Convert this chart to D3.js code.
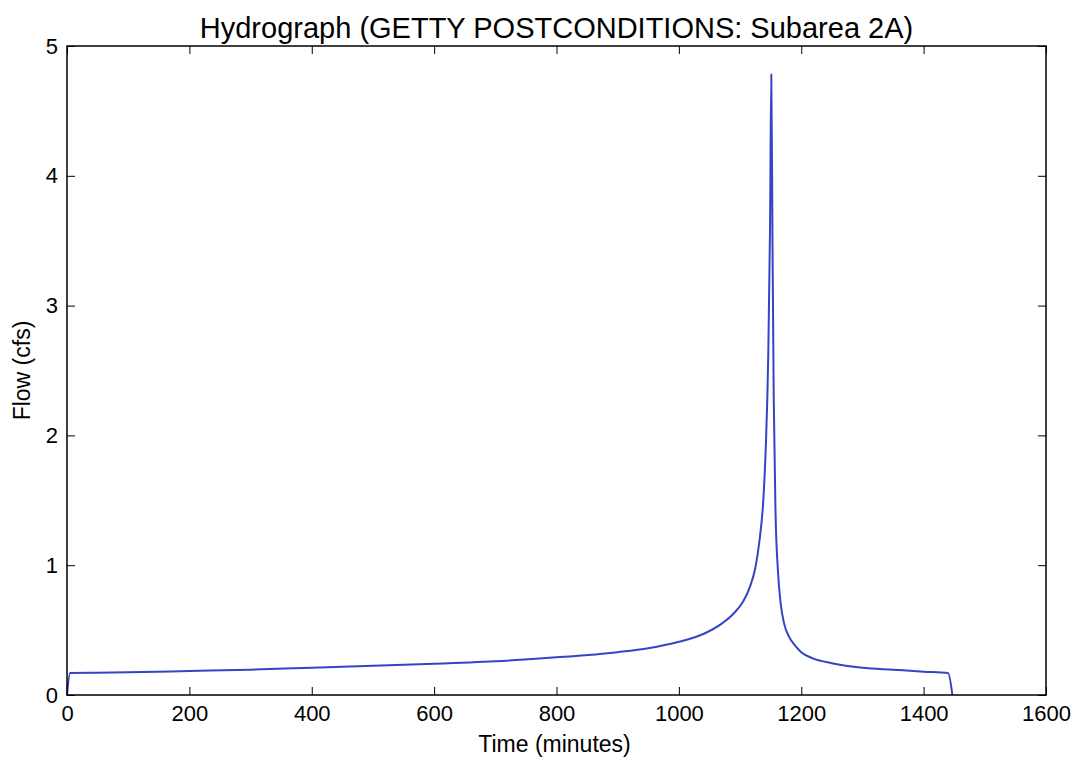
<!DOCTYPE html>
<html>
<head>
<meta charset="utf-8">
<script src="https://cdn.jsdelivr.net/npm/d3@7"></script>
<style>
  body { margin: 0; background: #fff; }
  svg { display: block; font-family: "Liberation Sans", Arial, sans-serif; }
</style>
</head>
<body>
<div id="chart"></div>
<script>
// Data
const times = [0, 5, 50, 100, 200, 300, 400, 500, 600, 700, 800, 900, 950, 1000, 1040, 1070, 1090,
  1105, 1115, 1125, 1132, 1138, 1142, 1146, 1149, 1151, 1153, 1155, 1158, 1162, 1166, 1172, 1180,
  1190, 1200, 1220, 1250, 1300, 1350, 1400, 1440, 1447]
const flows = [0, 0.17, 0.172, 0.175, 0.185, 0.195, 0.21, 0.225, 0.24, 0.26, 0.29, 0.33, 0.36, 0.41,
  0.47, 0.55, 0.63, 0.72, 0.82, 0.98, 1.2, 1.5, 1.9, 2.6, 3.6, 4.78, 3.5, 2.3, 1.4, 0.95, 0.72, 0.55,
  0.45, 0.38, 0.33, 0.28, 0.245, 0.21, 0.195, 0.18, 0.17, 0]
const xTicks = [0, 200, 400, 600, 800, 1000, 1200, 1400, 1600]
const yTicks = [0, 1, 2, 3, 4, 5]

const points = times.map((t, i) => ({ t, q: flows[i] }))

// SVG
const width = 1076, height = 758
const margin = { top: 46, right: 30, bottom: 63, left: 67 }
const chartWidth = width - margin.left - margin.right
const chartHeight = height - margin.top - margin.bottom

const svg = d3.select('#chart').append('svg')
  .attr('width', width)
  .attr('height', height)

const g = svg.append('g')
  .attr('transform', `translate(${margin.left}, ${margin.top})`)

// Scales
const x = d3.scaleLinear().domain([0, 1600]).range([0, chartWidth])
const y = d3.scaleLinear().domain([0, 5]).range([chartHeight, 0])

// Axes (ticks inside, on all four sides)
const tick = 8
const fmt = d3.format('d')
const styleAxis = sel => {
  sel.select('.domain').remove()
  sel.selectAll('line').attr('stroke', '#000').attr('stroke-width', 1)
  sel.selectAll('text').attr('fill', '#000').attr('font-size', 22)
}
g.append('g').attr('transform', `translate(0, ${chartHeight})`)
  .call(d3.axisBottom(x).tickValues(xTicks).tickSizeInner(-tick).tickPadding(10).tickFormat(fmt))
  .call(styleAxis)
g.append('g')
  .call(d3.axisTop(x).tickValues(xTicks).tickSizeInner(-tick).tickFormat(''))
  .call(styleAxis)
g.append('g')
  .call(d3.axisLeft(y).tickValues(yTicks).tickSizeInner(-tick).tickPadding(9).tickFormat(fmt))
  .call(styleAxis)
g.append('g').attr('transform', `translate(${chartWidth}, 0)`)
  .call(d3.axisRight(y).tickValues(yTicks).tickSizeInner(-tick).tickFormat(''))
  .call(styleAxis)

// Line
const line = d3.line()
  .x(d => x(d.t))
  .y(d => y(d.q))
  .curve(d3.curveMonotoneX)

g.append('path')
  .datum(points)
  .attr('fill', 'none')
  .attr('stroke', '#3444c4')
  .attr('stroke-width', 2)
  .attr('d', line)

// Frame
g.append('rect')
  .attr('width', chartWidth)
  .attr('height', chartHeight)
  .attr('fill', 'none')
  .attr('stroke', '#000')
  .attr('stroke-width', 1.5)

// Labels
svg.append('text')
  .attr('x', margin.left + chartWidth / 2)
  .attr('y', 38)
  .attr('text-anchor', 'middle')
  .attr('font-size', 29)
  .text('Hydrograph (GETTY POSTCONDITIONS: Subarea 2A)')

svg.append('text')
  .attr('x', margin.left + chartWidth / 2 - 2)
  .attr('y', 752)
  .attr('text-anchor', 'middle')
  .attr('font-size', 23)
  .text('Time (minutes)')

svg.append('text')
  .attr('transform', `translate(30, ${margin.top + chartHeight / 2}) rotate(-90)`)
  .attr('text-anchor', 'middle')
  .attr('font-size', 23)
  .text('Flow (cfs)')
</script>
</body>
</html>
